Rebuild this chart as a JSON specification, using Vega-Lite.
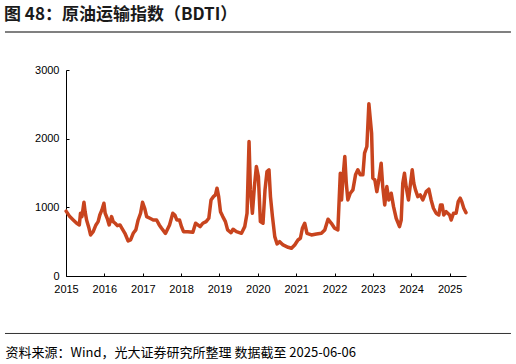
{
  "$schema": "https://vega.github.io/schema/vega-lite/v6.json",
  "width": 400,
  "height": 206,
  "autosize": {"type": "none"},
  "padding": {"left": 66, "top": 70, "right": 50, "bottom": 88},
  "background": "white",
  "title": {
    "text": "图 48：原油运输指数（BDTI）",
    "anchor": "start",
    "frame": "bounds",
    "font": "Noto Sans CJK SC",
    "fontSize": 17,
    "fontWeight": "bold",
    "color": "#1a1a1a",
    "baseline": "bottom",
    "offset": 7,
    "dy": 17
  },
  "config": {
    "view": {"stroke": null},
    "axis": {
      "labelFont": "Liberation Sans",
      "labelFontSize": 11,
      "labelColor": "#000",
      "domainColor": "#000",
      "tickColor": "#000",
      "tickSize": -3,
      "grid": false
    }
  },
  "layer": [
    {
      "data": {
        "values": [
          {"date": "2015-01-02", "bdti": 945},
          {"date": "2015-02-06", "bdti": 865},
          {"date": "2015-03-11", "bdti": 816},
          {"date": "2015-04-13", "bdti": 768},
          {"date": "2015-05-08", "bdti": 744},
          {"date": "2015-05-19", "bdti": 914},
          {"date": "2015-06-02", "bdti": 865},
          {"date": "2015-06-21", "bdti": 1074},
          {"date": "2015-07-02", "bdti": 937},
          {"date": "2015-07-16", "bdti": 816},
          {"date": "2015-08-04", "bdti": 719},
          {"date": "2015-08-23", "bdti": 598},
          {"date": "2015-09-17", "bdti": 646},
          {"date": "2015-10-13", "bdti": 744},
          {"date": "2015-11-03", "bdti": 792},
          {"date": "2015-11-19", "bdti": 889},
          {"date": "2015-12-09", "bdti": 962},
          {"date": "2015-12-28", "bdti": 1060},
          {"date": "2016-01-09", "bdti": 914},
          {"date": "2016-01-28", "bdti": 841},
          {"date": "2016-02-16", "bdti": 744},
          {"date": "2016-03-10", "bdti": 865},
          {"date": "2016-03-25", "bdti": 792},
          {"date": "2016-04-13", "bdti": 768},
          {"date": "2016-05-04", "bdti": 733},
          {"date": "2016-05-29", "bdti": 744},
          {"date": "2016-06-17", "bdti": 695},
          {"date": "2016-07-15", "bdti": 622},
          {"date": "2016-08-15", "bdti": 510},
          {"date": "2016-09-07", "bdti": 525},
          {"date": "2016-10-02", "bdti": 622},
          {"date": "2016-10-27", "bdti": 671},
          {"date": "2016-11-18", "bdti": 816},
          {"date": "2016-12-11", "bdti": 914},
          {"date": "2016-12-30", "bdti": 1074},
          {"date": "2017-01-19", "bdti": 987},
          {"date": "2017-02-07", "bdti": 865},
          {"date": "2017-03-10", "bdti": 841},
          {"date": "2017-04-11", "bdti": 816},
          {"date": "2017-05-13", "bdti": 816},
          {"date": "2017-06-07", "bdti": 744},
          {"date": "2017-06-29", "bdti": 695},
          {"date": "2017-08-05", "bdti": 620},
          {"date": "2017-09-13", "bdti": 744},
          {"date": "2017-10-14", "bdti": 914},
          {"date": "2017-11-02", "bdti": 889},
          {"date": "2017-11-21", "bdti": 816},
          {"date": "2017-12-17", "bdti": 816},
          {"date": "2018-01-05", "bdti": 719},
          {"date": "2018-01-24", "bdti": 646},
          {"date": "2018-03-06", "bdti": 646},
          {"date": "2018-04-23", "bdti": 637},
          {"date": "2018-05-19", "bdti": 768},
          {"date": "2018-06-10", "bdti": 744},
          {"date": "2018-07-01", "bdti": 719},
          {"date": "2018-07-27", "bdti": 768},
          {"date": "2018-08-27", "bdti": 792},
          {"date": "2018-09-22", "bdti": 841},
          {"date": "2018-10-13", "bdti": 1108},
          {"date": "2018-11-05", "bdti": 1156},
          {"date": "2018-11-24", "bdti": 1181},
          {"date": "2018-12-09", "bdti": 1279},
          {"date": "2018-12-25", "bdti": 1156},
          {"date": "2019-01-11", "bdti": 937},
          {"date": "2019-02-02", "bdti": 865},
          {"date": "2019-02-27", "bdti": 792},
          {"date": "2019-03-20", "bdti": 671},
          {"date": "2019-04-21", "bdti": 630},
          {"date": "2019-05-11", "bdti": 681},
          {"date": "2019-06-12", "bdti": 646},
          {"date": "2019-07-30", "bdti": 622},
          {"date": "2019-08-30", "bdti": 719},
          {"date": "2019-09-21", "bdti": 914},
          {"date": "2019-10-10", "bdti": 1958},
          {"date": "2019-10-23", "bdti": 1254},
          {"date": "2019-11-11", "bdti": 914},
          {"date": "2019-11-30", "bdti": 1302},
          {"date": "2019-12-19", "bdti": 1594},
          {"date": "2020-01-07", "bdti": 1448},
          {"date": "2020-01-26", "bdti": 792},
          {"date": "2020-02-20", "bdti": 768},
          {"date": "2020-03-10", "bdti": 1254},
          {"date": "2020-03-29", "bdti": 1521},
          {"date": "2020-04-17", "bdti": 1546},
          {"date": "2020-05-01", "bdti": 1156},
          {"date": "2020-05-20", "bdti": 865},
          {"date": "2020-06-11", "bdti": 573},
          {"date": "2020-07-03", "bdti": 467},
          {"date": "2020-07-28", "bdti": 500},
          {"date": "2020-08-29", "bdti": 452},
          {"date": "2020-10-16", "bdti": 418},
          {"date": "2020-11-17", "bdti": 404},
          {"date": "2020-12-18", "bdti": 452},
          {"date": "2021-01-18", "bdti": 525},
          {"date": "2021-02-10", "bdti": 550},
          {"date": "2021-03-01", "bdti": 695},
          {"date": "2021-03-23", "bdti": 768},
          {"date": "2021-04-14", "bdti": 622},
          {"date": "2021-05-26", "bdti": 598},
          {"date": "2021-07-13", "bdti": 612},
          {"date": "2021-08-29", "bdti": 622},
          {"date": "2021-09-30", "bdti": 671},
          {"date": "2021-10-31", "bdti": 827},
          {"date": "2021-12-02", "bdti": 768},
          {"date": "2022-01-02", "bdti": 695},
          {"date": "2022-02-02", "bdti": 671},
          {"date": "2022-02-25", "bdti": 1497},
          {"date": "2022-03-09", "bdti": 1108},
          {"date": "2022-03-21", "bdti": 1400},
          {"date": "2022-04-09", "bdti": 1740},
          {"date": "2022-04-23", "bdti": 1351},
          {"date": "2022-05-08", "bdti": 1108},
          {"date": "2022-05-31", "bdti": 1205},
          {"date": "2022-06-25", "bdti": 1254},
          {"date": "2022-07-20", "bdti": 1473},
          {"date": "2022-08-11", "bdti": 1546},
          {"date": "2022-09-03", "bdti": 1473},
          {"date": "2022-09-28", "bdti": 1473},
          {"date": "2022-10-14", "bdti": 1789},
          {"date": "2022-11-05", "bdti": 1886},
          {"date": "2022-11-24", "bdti": 2508},
          {"date": "2022-12-08", "bdti": 2275},
          {"date": "2022-12-20", "bdti": 2081},
          {"date": "2023-01-01", "bdti": 1424},
          {"date": "2023-01-20", "bdti": 1400},
          {"date": "2023-02-08", "bdti": 1229},
          {"date": "2023-02-27", "bdti": 1400},
          {"date": "2023-03-21", "bdti": 1643},
          {"date": "2023-04-05", "bdti": 1302},
          {"date": "2023-04-24", "bdti": 1035},
          {"date": "2023-05-14", "bdti": 1302},
          {"date": "2023-06-02", "bdti": 1108},
          {"date": "2023-06-25", "bdti": 1205},
          {"date": "2023-07-17", "bdti": 1010},
          {"date": "2023-08-11", "bdti": 841},
          {"date": "2023-09-12", "bdti": 719},
          {"date": "2023-09-28", "bdti": 816},
          {"date": "2023-10-13", "bdti": 1351},
          {"date": "2023-10-29", "bdti": 1497},
          {"date": "2023-11-14", "bdti": 1302},
          {"date": "2023-12-06", "bdti": 1108},
          {"date": "2023-12-22", "bdti": 1302},
          {"date": "2024-01-11", "bdti": 1546},
          {"date": "2024-01-26", "bdti": 1351},
          {"date": "2024-02-11", "bdti": 1254},
          {"date": "2024-03-04", "bdti": 1156},
          {"date": "2024-03-27", "bdti": 1181},
          {"date": "2024-04-21", "bdti": 1108},
          {"date": "2024-05-23", "bdti": 1229},
          {"date": "2024-06-17", "bdti": 1264},
          {"date": "2024-07-09", "bdti": 1108},
          {"date": "2024-07-31", "bdti": 987},
          {"date": "2024-08-26", "bdti": 914},
          {"date": "2024-09-20", "bdti": 889},
          {"date": "2024-10-06", "bdti": 1035},
          {"date": "2024-10-22", "bdti": 1035},
          {"date": "2024-11-06", "bdti": 889},
          {"date": "2024-11-29", "bdti": 937},
          {"date": "2025-01-01", "bdti": 889},
          {"date": "2025-01-16", "bdti": 816},
          {"date": "2025-02-07", "bdti": 914},
          {"date": "2025-03-04", "bdti": 914},
          {"date": "2025-03-24", "bdti": 1083},
          {"date": "2025-04-12", "bdti": 1133},
          {"date": "2025-04-27", "bdti": 1083},
          {"date": "2025-05-16", "bdti": 987},
          {"date": "2025-06-06", "bdti": 923}
        ]
      },
      "mark": {"type": "line", "color": "#C8441E", "strokeWidth": 3.5, "strokeJoin": "round", "strokeCap": "round"},
      "encoding": {
        "x": {
          "field": "date",
          "type": "temporal",
          "scale": {"domain": [{"year": 2015, "month": 1, "date": 1}, {"year": 2025, "month": 6, "date": 6}]},
          "axis": {
            "format": "%Y",
            "tickCount": {"interval": "year", "step": 1},
            "labelPadding": 10,
            "labelFlush": false,
            "labelOverlap": false,
            "title": "资料来源：Wind，光大证券研究所整理 数据截至 2025-06-06",
            "titleFont": "Noto Sans CJK SC",
            "titleFontSize": 13,
            "titleFontWeight": "normal",
            "titleColor": "#000",
            "titleAnchor": "start",
            "titleAlign": "left",
            "titleBaseline": "alphabetic",
            "titleX": -61,
            "titleY": 80
          }
        },
        "y": {
          "field": "bdti",
          "type": "quantitative",
          "scale": {"domain": [0, 3000]},
          "axis": {"values": [0, 500, 1000, 1500, 2000, 2500, 3000], "format": "d", "title": null, "labelPadding": 10}
        }
      }
    },
    {
      "data": {"values": [{}]},
      "mark": {"type": "rule", "color": "#808080", "strokeWidth": 2},
      "encoding": {
        "x": {"datum": {"year": 2013, "month": 5, "date": 30}, "type": "temporal"},
        "x2": {"datum": {"year": 2026, "month": 8, "date": 8}},
        "y": {"datum": 3553, "type": "quantitative"}
      }
    },
    {
      "data": {"values": [{}]},
      "mark": {"type": "rule", "color": "#333333", "strokeWidth": 1},
      "encoding": {
        "x": {"datum": {"year": 2013, "month": 5, "date": 30}, "type": "temporal"},
        "x2": {"datum": {"year": 2026, "month": 8, "date": 8}},
        "y": {"datum": -837, "type": "quantitative"}
      }
    }
  ]
}
